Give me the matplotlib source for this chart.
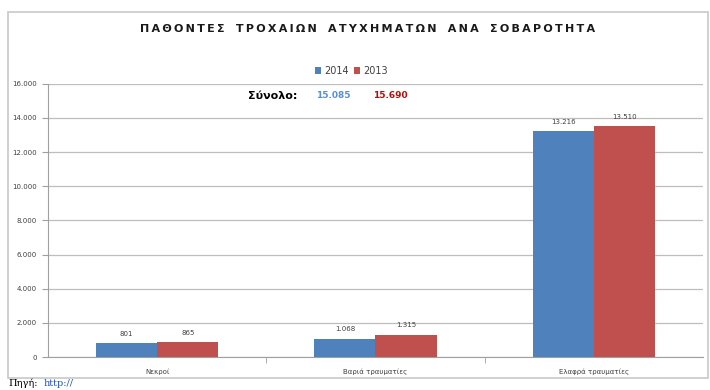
import numpy as np
import matplotlib.pyplot as plt
from matplotlib.patches import Rectangle
from matplotlib.ticker import FuncFormatter

# DATA
categories = ['Νεκροί', 'Βαριά τραυματίες', 'Ελαφρά τραυματίες']
v2014 = [801, 1068, 13216]
v2013 = [865, 1315, 13510]
total_2014 = '15.085'
total_2013 = '15.690'
title = 'ΠΑΘΟΝΤΕΣ ΤΡΟΧΑΙΩΝ ΑΤΥΧΗΜΑΤΩΝ ΑΝΑ ΣΟΒΑΡΟΤΗΤΑ'

BLUE = '#4F81BD'
RED = '#C0504D'

def thou(v, pos=None):
    return f'{int(v):,}'.replace(',', '.')

fig = plt.figure(figsize=(7.1, 3.9), dpi=100)
fig.patch.set_facecolor('white')

# chart frame
fig.patches.append(Rectangle((0.011, 0.031), 0.986, 0.938, transform=fig.transFigure,
                             fill=False, edgecolor='#C8C8C8', linewidth=1.2))

ax = fig.add_axes([0.0676, 0.0846, 0.9224, 0.7004])
x = np.arange(len(categories))
w = 0.28
b1 = ax.bar(x - w/2, v2014, w, color=BLUE, label='2014', zorder=3)
b2 = ax.bar(x + w/2, v2013, w, color=RED, label='2013', zorder=3)

for bars in (b1, b2):
    for r in bars:
        ax.text(r.get_x() + r.get_width()/2, r.get_height() + 380, thou(r.get_height()),
                ha='center', va='bottom', fontsize=5, color='#404040')

ax.set_ylim(0, 16000)
ax.set_xlim(-0.5, 2.5)
ax.set_yticks(np.arange(0, 16001, 2000))
ax.yaxis.set_major_formatter(FuncFormatter(thou))
ax.set_xticks(x)
ax.set_xticklabels(categories)
ax.set_xticks([0.5, 1.5], minor=True)
ax.tick_params(axis='x', which='major', length=0, labelsize=5, colors='#404040', pad=8)
ax.tick_params(axis='x', which='minor', length=4, color='#A0A0A0')
ax.tick_params(axis='y', length=4, color='#A0A0A0', labelsize=5, labelcolor='#404040', pad=4)
ax.grid(axis='y', color='#BEBEBE', linewidth=0.9, zorder=0)
for s in ['top', 'right']:
    ax.spines[s].set_visible(False)
for s in ['left', 'bottom']:
    ax.spines[s].set_color('#A0A0A0')
    ax.spines[s].set_linewidth(0.8)

# title with letter spacing
spaced = '\u2002\u2002'.join('\u2009'.join(word) for word in title.split())
fig.text(0.517, 0.926, spaced, ha='center', va='center', fontsize=8,
         fontweight='bold', color='#1A1A1A', family='DejaVu Sans')

# legend
leg = fig.legend(handles=[b1, b2], labels=['2014', '2013'], loc='center',
                 bbox_to_anchor=(0.495, 0.818), ncol=2, frameon=False, fontsize=7,
                 handlelength=0.6, handleheight=0.6, handletextpad=0.3, columnspacing=0.6)
for t in leg.get_texts():
    t.set_color('#404040')

# totals
fig.text(0.349, 0.754, 'Σύνολο:', ha='left', va='center', fontsize=8, fontweight='bold', color='black')
fig.text(0.445, 0.754, total_2014, ha='left', va='center', fontsize=6.5, fontweight='bold', color='#5B8FCF')
fig.text(0.525, 0.754, total_2013, ha='left', va='center', fontsize=6.5, fontweight='bold', color='#B01010')

# source line under the chart frame
fig.text(0.012, 0.004, 'Πηγή:', ha='left', va='bottom', fontsize=7, family='DejaVu Serif', color='black')
fig.text(0.062, 0.004, 'http://', ha='left', va='bottom', fontsize=7, family='DejaVu Serif', color='#1F4FC8')

fig.savefig('out.png', dpi=100)
